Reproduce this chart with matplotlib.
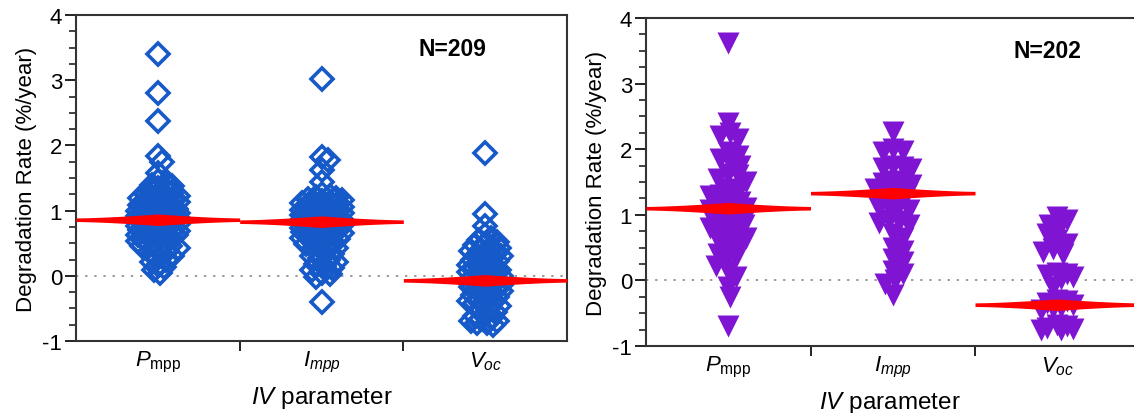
import matplotlib
matplotlib.use("Agg")
import matplotlib.pyplot as plt
from matplotlib.ticker import MultipleLocator, FixedLocator
import numpy as np

plt.rcParams['font.family'] = ['Liberation Sans', 'DejaVu Sans']
plt.rcParams['mathtext.fontset'] = 'custom'
plt.rcParams['mathtext.rm'] = 'Liberation Sans'
plt.rcParams['mathtext.it'] = 'Liberation Sans:italic'
plt.rcParams['mathtext.bf'] = 'Liberation Sans:bold'

params = [r'$P_{\mathrm{mpp}}$', r'$I_{mpp}$', r'$V_{oc}$']

# left panel (N=209), degradation rates in %/year
a_pmpp = [3.40, 2.80, 2.38, 1.83, 1.75, 1.58, 1.45, 1.42, 1.40, 1.38, 1.35, 1.32,
          1.30, 1.28, 1.26, 1.25, 1.23, 1.22, 1.20, 1.19, 1.17, 1.15, 1.14, 1.13,
          1.11, 1.10, 1.08, 1.07, 1.05, 1.04, 1.03,
          1.02, 1.01, 1.00, 0.99, 0.98, 0.97, 0.96, 0.95, 0.94, 0.93, 0.92, 0.91,
          0.90, 0.89, 0.88, 0.87, 0.86, 0.85, 0.84, 0.83, 0.82, 0.81, 0.80, 0.79,
          0.78, 0.77, 0.76, 0.75, 0.74, 0.73, 0.72, 0.71, 0.70, 0.69, 0.68, 0.67,
          0.66, 0.65, 0.64, 0.63, 0.62, 0.60, 0.59, 0.57, 0.56, 0.54, 0.52, 0.50,
          0.48, 0.46, 0.45, 0.43, 0.40, 0.37, 0.34, 0.31, 0.28, 0.25, 0.21, 0.17,
          0.13, 0.09, 0.05]
a_impp = [3.02, 1.82, 1.78, 1.62, 1.44, 1.25, 1.23, 1.21, 1.19, 1.18, 1.16, 1.15,
          1.13, 1.12, 1.10, 1.09, 1.08,
          1.06, 1.04, 1.03, 1.01, 1.00, 0.99, 0.98, 0.97, 0.96, 0.95, 0.94, 0.93,
          0.92, 0.91, 0.90, 0.89, 0.88, 0.87, 0.86, 0.85, 0.84, 0.83, 0.82, 0.81,
          0.80, 0.79, 0.78, 0.77, 0.76, 0.75, 0.74, 0.73, 0.72, 0.71, 0.70, 0.69,
          0.68, 0.67, 0.66, 0.65, 0.63, 0.62, 0.60, 0.58, 0.57, 0.55, 0.53, 0.51,
          0.49, 0.47, 0.44, 0.42, 0.39, 0.36, 0.33, 0.30, 0.27, 0.24, 0.21, 0.18,
          0.15, 0.12, 0.09, 0.05, 0.02, -0.02, -0.40]
a_voc = [1.88, 0.95, 0.77, 0.62, 0.58, 0.55, 0.52, 0.49, 0.47, 0.44, 0.42, 0.40,
         0.38, 0.36, 0.34, 0.32, 0.30, 0.28, 0.26, 0.24, 0.22, 0.20, 0.18, 0.16,
         0.14, 0.12, 0.10, 0.09, 0.07, 0.06, 0.04, 0.03, 0.01, 0.00, -0.02, -0.03,
         -0.05, -0.06, -0.08, -0.09, -0.11, -0.12, -0.14, -0.15, -0.17, -0.18,
         -0.20, -0.22, -0.24, -0.26, -0.28, -0.30, -0.32, -0.34, -0.36, -0.38,
         -0.40, -0.42, -0.44, -0.47, -0.50, -0.53, -0.56, -0.59, -0.62, -0.65,
         -0.67, -0.69, -0.70, -0.72, -0.73, -0.75]
a_means = [0.86, 0.83, -0.07]

# right panel (N=202)
b_pmpp = [3.62, 2.40, 2.25, 2.20, 2.15, 1.95, 1.90, 1.85, 1.80, 1.75, 1.62, 1.60,
          1.55, 1.50, 1.40, 1.35, 1.30, 1.28, 1.25, 1.20, 1.18, 1.15, 1.12, 1.10,
          1.08, 1.05, 1.02, 1.00, 0.98, 0.95, 0.92, 0.90, 0.85, 0.80, 0.75, 0.72,
          0.70, 0.65, 0.60, 0.55, 0.50, 0.45, 0.40, 0.35, 0.30, 0.22, 0.15, 0.05,
          -0.10, -0.25, -0.70]
b_impp = [2.26, 2.00, 1.97, 1.95, 1.75, 1.73, 1.72, 1.70, 1.52, 1.50, 1.48, 1.45,
          1.40, 1.38, 1.35, 1.33, 1.30, 1.28, 1.15, 1.12, 1.10, 1.08, 1.05, 0.92,
          0.90, 0.88, 0.85, 0.70, 0.65, 0.50, 0.45, 0.32, 0.28, 0.15, 0.10, 0.00,
          -0.05, -0.22]
b_voc = [0.97, 0.92, 0.85, 0.78, 0.70, 0.62, 0.55, 0.48, 0.44, 0.40, 0.12, 0.10,
         0.08, 0.05, 0.02, -0.10, -0.30, -0.32, -0.35, -0.38, -0.40, -0.42, -0.45,
         -0.68, -0.70, -0.72, -0.74, -0.75, -0.76]
b_means = [1.10, 1.33, -0.37]

BLUE = '#1659c9'
PURPLE = '#7f14d2'


def swarm_x(ax, vals, center, min_dist, max_off, step=2.0):
    # spread points sideways (pixels), capped at max_off; overlap when crowded
    tr = ax.transData
    vals = np.asarray(vals, dtype=float)
    pts = tr.transform(np.column_stack([np.full(len(vals), center), vals]))
    cx = pts[0, 0]
    ys = pts[:, 1]
    n = int(max_off // step)
    cands = [0.0]
    for k in range(1, n + 1):
        cands += [k * step, -k * step]
    placed = []
    xs = np.zeros(len(vals))
    for i in np.argsort(-vals):
        best, best_d = 0.0, -1.0
        for off in cands:
            d = min((np.hypot(off - px, ys[i] - py) for px, py in placed), default=1e9)
            if d >= min_dist:
                best = off
                break
            if d > best_d:
                best, best_d = off, d
        placed.append((best, ys[i]))
        xs[i] = cx + best
    back = tr.inverted().transform(np.column_stack([xs, ys]))
    return back[:, 0]


def mean_spindle(ax, center, mean):
    tr = ax.transData
    px_per_y = tr.transform((0, 1))[1] - tr.transform((0, 0))[1]
    t = np.linspace(-1, 1, 201)
    half = (1.8 + 4.0 * (1 - np.abs(t)) ** 1.5) / px_per_y
    x = center + 0.5 * t
    ax.fill_between(x, mean - half, mean + half, color='#ff0000', lw=0, zorder=5)


def panel(ax, groups, means, marker, ms, color, filled, spread, nlabel, npos, xmax):
    ax.set_xlim(0.5, xmax)
    ax.set_ylim(-1, 4)
    ax.axhline(0, color='#9a9a9a', lw=1.4, ls=(0, (1.2, 3.5)), zorder=1)
    for i, vals in enumerate(groups):
        c = i + 1
        if filled:
            xs = swarm_x(ax, vals, c, min_dist=10.0, max_off=spread[i])
            ax.plot(xs, vals, ls='none', marker=marker, ms=ms, color=color,
                    mec='none', zorder=3)
        else:
            xs = swarm_x(ax, vals, c, min_dist=6.5, max_off=spread[i])
            ax.plot(xs, vals, ls='none', marker=marker, ms=ms, mfc='none',
                    mec=color, mew=2.6, zorder=3)
        mean_spindle(ax, c, means[i])

    ax.set_yticks([-1, 0, 1, 2, 3, 4])
    ax.set_yticklabels(['-1', '0', '1', '2', '3', '4'])
    ax.yaxis.set_minor_locator(MultipleLocator(0.25))
    ax.xaxis.set_major_locator(FixedLocator([1, 2, 3]))
    ax.set_xticklabels(params)
    ax.xaxis.set_minor_locator(FixedLocator([1.5, 2.5]))
    ax.tick_params(axis='x', which='major', length=0, labelsize=16, pad=6)
    ax.tick_params(axis='x', which='minor', length=7, width=1.4, color='#222222')
    ax.tick_params(axis='y', which='major', length=8, width=1.4, labelsize=16,
                   color='#222222', pad=2)
    ax.tick_params(axis='y', which='minor', length=5, width=1.2, color='#222222')
    for s in ax.spines.values():
        s.set_linewidth(1.5)
        s.set_color('#333333')
    ax.set_ylabel('Degradation Rate (%/year)', fontsize=16, labelpad=4)
    ax.set_xlabel(r'$IV$ parameter', fontsize=17.5, labelpad=7)
    ax.text(npos[0], npos[1], nlabel, fontsize=16.5, fontweight='bold',
            ha='center', va='center')


fig = plt.figure(figsize=(11.34, 4.14), dpi=100)
ax1 = fig.add_axes([76 / 1134, 72 / 414, 491 / 1134, 326 / 414])
ax2 = fig.add_axes([646 / 1134, 67 / 414, 488 / 1134, 328 / 414])

panel(ax1, [a_pmpp, a_impp, a_voc], a_means, 'D', 11, BLUE, False,
      [20, 20, 17], 'N=209', (2.80, 3.48), 3.5)
panel(ax2, [b_pmpp, b_impp, b_voc], b_means, 'v', 16.5, PURPLE, True,
      [19, 18, 16], 'N=202', (2.94, 3.50), 0.5 + 488 / 164.5)
ax2.spines['right'].set_visible(False)

fig.savefig('out.png', dpi=100)
